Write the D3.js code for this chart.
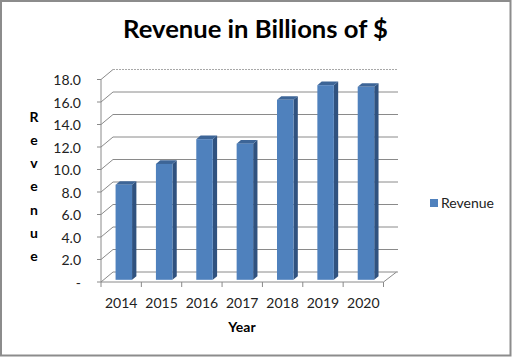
<!DOCTYPE html>
<html><head><meta charset="utf-8">
<script src="https://cdn.jsdelivr.net/npm/d3@7"></script>
<style>html,body{margin:0;padding:0;background:#fff;}svg{display:block;}</style>
</head><body>
<script>
const years = ["2014","2015","2016","2017","2018","2019","2020"];
const revenue = [8.45, 10.3, 12.5, 12.1, 16.0, 17.3, 17.15];
const yTicks = [0,2,4,6,8,10,12,14,16,18];
const yTickLabels = ["-","2.0","4.0","6.0","8.0","10.0","12.0","14.0","16.0","18.0"];
const seriesName = "Revenue";
const titleText = "Revenue in Billions of $";
const xTitle = "Year";
const yTitle = "Revenue";

const W = 512, H = 357;
const FONT = "Lato, 'Open Sans', sans-serif";
const svg = d3.select("body").append("svg").attr("width", W).attr("height", H);
svg.append("rect").attr("x",1).attr("y",1).attr("width",W-2.5).attr("height",H-2.5)
  .attr("fill","#fff").attr("stroke","#8c8c8c").attr("stroke-width",2);

const DX = 12, DY = -10;
const x = d3.scaleBand().domain(years).range([101, 383.5]);
const y = d3.scaleLinear().domain([0, 18]).range([282, 79.5]);
const grid = "#8a8a8a";

const g = svg.append("g");
yTicks.forEach((t,i) => {
  g.append("line").attr("x1", 101+DX).attr("x2", 398).attr("y1", y(t)+DY).attr("y2", y(t)+DY)
   .attr("stroke", i === yTicks.length-1 ? "#a8a8a8" : grid).attr("stroke-width",1)
   .attr("stroke-dasharray", i === yTicks.length-1 ? "2,1" : null);
  g.append("line").attr("x1", 101).attr("y1", y(t)).attr("x2", 101+DX).attr("y2", y(t)+DY)
   .attr("stroke", grid);
});
g.append("line").attr("x1",101).attr("x2",x.range()[1]).attr("y1",y(0)).attr("y2",y(0)).attr("stroke",grid);
g.append("line").attr("x1",x.range()[1]).attr("y1",y(0)).attr("x2",x.range()[1]+DX+1).attr("y2",y(0)+DY).attr("stroke",grid);
g.append("line").attr("x1",101).attr("x2",101).attr("y1",y(0)).attr("y2",y(18)).attr("stroke",grid);
yTicks.forEach((t,i) => {
  g.append("line").attr("x1",97).attr("x2",101).attr("y1",y(t)).attr("y2",y(t)).attr("stroke",grid);
  g.append("text").attr("x",81).attr("y",y(t)+5.5).attr("text-anchor","end")
   .attr("font-family",FONT).attr("font-size",14).attr("fill","#222").text(yTickLabels[i]);
});
const xt = years.map(d => x(d)).concat([x.range()[1]]);
xt.forEach(v => g.append("line").attr("x1",v).attr("x2",v).attr("y1",y(0)).attr("y2",y(0)+5).attr("stroke",grid));
years.forEach(d => g.append("text").attr("x", x(d)+x.bandwidth()/2).attr("y", 308).attr("text-anchor","middle")
  .attr("font-family",FONT).attr("font-size",14).attr("fill","#222").text(d));

const f1 = 0.22, fd = 0.36;
const bw = 16.5;
const ox = f1*DX, oy = f1*DY, sx = fd*DX, sy = fd*DY;
years.forEach((d,i) => {
  const x0 = x(d) + x.bandwidth()/2 - bw/2 + ox;
  const yb = y(0) + oy, yt = y(revenue[i]) + oy;
  g.append("path").attr("d", `M${x0+bw},${yt} L${x0+bw+sx},${yt+sy} L${x0+bw+sx},${yb+sy} L${x0+bw},${yb} Z`).attr("fill","#30527f");
  g.append("path").attr("d", `M${x0},${yt} L${x0+sx},${yt+sy} L${x0+bw+sx},${yt+sy} L${x0+bw},${yt} Z`).attr("fill","#3d6597");
  g.append("rect").attr("x",x0).attr("y",yt).attr("width",bw).attr("height",yb-yt).attr("fill","#4f81bd");
});

const tt = svg.append("text").attr("x",255.5).attr("y",38).attr("text-anchor","middle")
  .attr("font-family",FONT).attr("font-weight","bold").attr("font-size",24).attr("fill","#000").text(titleText);
const tw = tt.node().getComputedTextLength();
tt.attr("font-size", 24*265/tw);

svg.append("text").attr("x",242).attr("y",331.5).attr("text-anchor","middle")
  .attr("font-family",FONT).attr("font-weight","bold").attr("font-size",14).attr("fill","#000").text(xTitle);

yTitle.split("").forEach((c,i) => svg.append("text").attr("x",34).attr("y",121.5+i*23.3).attr("text-anchor","middle")
  .attr("font-family",FONT).attr("font-weight","bold").attr("font-size",14).attr("fill","#000").text(c));

svg.append("rect").attr("x",430).attr("y",199).attr("width",8).attr("height",8).attr("fill","#4f81bd");
svg.append("text").attr("x",441).attr("y",208).attr("font-family",FONT).attr("font-size",14).attr("fill","#222").text(seriesName);
</script>
</body></html>
